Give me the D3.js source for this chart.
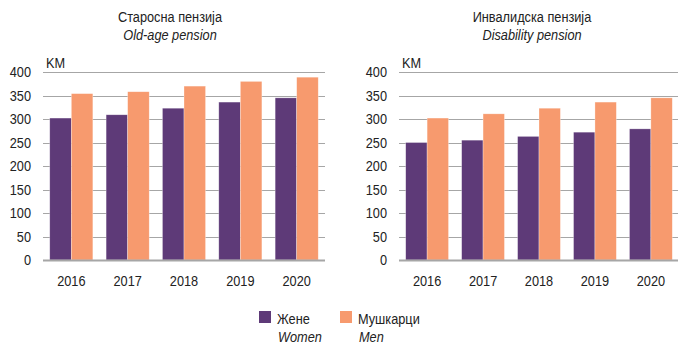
<!DOCTYPE html>
<html>
<head>
<meta charset="utf-8">
<script src="https://cdn.jsdelivr.net/npm/d3@7"></script>
<style>
  html, body { margin: 0; padding: 0; background: #fff; }
  svg { display: block; font-family: "Liberation Sans", Arial, sans-serif; }
  text { fill: #222; }
</style>
</head>
<body>
<svg id="chart" width="678" height="344"></svg>
<script>
// Average pension by sex, in KM
const years = ["2016", "2017", "2018", "2019", "2020"];
const oldAgeWomen = [302, 309, 323, 336, 345];
const oldAgeMen = [354, 358, 370, 380, 389];
const disabilityWomen = [250, 255, 263, 272, 279];
const disabilityMen = [302, 311, 323, 336, 345];
const yTicks = [0, 50, 100, 150, 200, 250, 300, 350, 400];
const seriesKeys = ["women", "men"];
const seriesColors = ["#5E3A78", "#F79A6E"];
const legendLabels = [["Жене", "Women"], ["Мушкарци", "Men"]];
const panelTitles = [
  ["Старосна пензија", "Old-age pension"],
  ["Инвалидска пензија", "Disability pension"]
];
const unitLabel = "KM";

// narrow the type horizontally around each label's anchor point
const NARROW = 0.85;
function condense(sel) {
  sel.each(function () {
    const t = d3.select(this);
    const ax = +t.attr("x") || 0;
    const ay = +t.attr("y") || 0;
    t.attr("transform", `translate(${ax},${ay}) scale(${NARROW},1) translate(${-ax},${-ay})`);
  });
}

const svg = d3.select("#chart");

const panels = [
  { title: panelTitles[0], women: oldAgeWomen, men: oldAgeMen, x0: 43, x1: 325, titleX: 170 },
  { title: panelTitles[1], women: disabilityWomen, men: disabilityMen, x0: 399, x1: 679, titleX: 532 }
];

const y = d3.scaleLinear().domain([0, 400]).range([260, 72]);
const color = d3.scaleOrdinal().domain(seriesKeys).range(seriesColors);

panels.forEach(p => {
  const g = svg.append("g");
  const x = d3.scaleBand().domain(years).range([p.x0, p.x1]).paddingInner(0.235).paddingOuter(0.12);
  const xs = d3.scaleBand().domain(seriesKeys).range([0, x.bandwidth()]);

  // titles
  g.append("text").attr("x", p.titleX).attr("y", 22).attr("text-anchor", "middle")
    .style("font-size", "15px").text(p.title[0]).call(condense);
  g.append("text").attr("x", p.titleX).attr("y", 40).attr("text-anchor", "middle")
    .style("font-size", "15px").style("font-style", "italic").text(p.title[1]).call(condense);

  // y axis labels
  const axisY = d3.axisLeft(y).tickValues(yTicks).tickSize(0).tickPadding(12);
  const ga = g.append("g").attr("transform", `translate(${p.x0},0)`).call(axisY);
  ga.select(".domain").remove();
  ga.selectAll("text").style("font-size", "15px").style("fill", "#222").style("font-family", null).call(condense);

  // gridlines
  g.append("g").selectAll("line").data(yTicks.filter(d => d > 0)).join("line")
    .attr("x1", p.x0).attr("x2", p.x1)
    .attr("y1", d => Math.round(y(d)) + 0.5).attr("y2", d => Math.round(y(d)) + 0.5)
    .attr("stroke", "#a6a6a6").attr("stroke-width", 1.2);

  // bars
  const rows = years.map((yr, i) => ({ year: yr, women: p.women[i], men: p.men[i] }));
  g.append("g").selectAll("g").data(rows).join("g")
    .attr("transform", d => `translate(${x(d.year)},0)`)
    .selectAll("rect").data(d => seriesKeys.map(k => ({ key: k, value: d[k] }))).join("rect")
    .attr("x", d => xs(d.key)).attr("width", xs.bandwidth())
    .attr("y", d => y(d.value)).attr("height", d => y(0) - y(d.value))
    .attr("fill", d => color(d.key))
    .attr("stroke", "#fff").attr("stroke-opacity", 0.5).attr("stroke-width", 0.6);

  // baseline
  g.append("line").attr("x1", p.x0).attr("x2", p.x1).attr("y1", 260.5).attr("y2", 260.5)
    .attr("stroke", "#a6a6a6").attr("stroke-width", 2);

  // x axis labels
  const axisX = d3.axisBottom(x).tickSize(0).tickPadding(0);
  const gx = g.append("g").attr("transform", "translate(0,275)").call(axisX);
  gx.select(".domain").remove();
  gx.selectAll("text").style("font-size", "15px").style("fill", "#222").style("font-family", null).call(condense);

  // unit
  g.append("text").attr("x", p.x0 + 3).attr("y", 68).style("font-size", "15px").text(unitLabel).call(condense);
});

// legend
const legendX = [259, 340];
seriesKeys.forEach((k, i) => {
  const lg = svg.append("g").attr("transform", `translate(${legendX[i]},311)`);
  lg.append("rect").attr("width", 12).attr("height", 12).attr("fill", color(k));
  lg.append("text").attr("x", 18).attr("y", 13).style("font-size", "15px").text(legendLabels[i][0]).call(condense);
  lg.append("text").attr("x", 19).attr("y", 31).style("font-size", "15px").style("font-style", "italic").text(legendLabels[i][1]).call(condense);
});
</script>
</body>
</html>
